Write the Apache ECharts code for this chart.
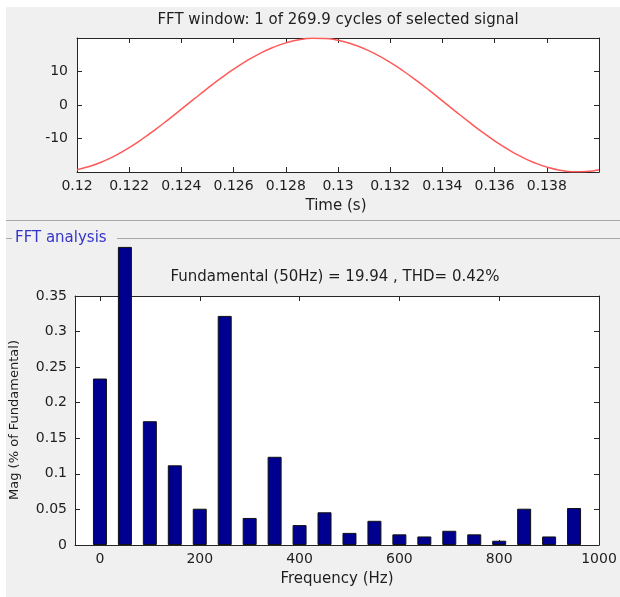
<!DOCTYPE html>
<html>
<head>
<meta charset="utf-8">
<script src="https://cdn.jsdelivr.net/npm/echarts@6/dist/echarts.min.js"></script>
<style>html,body{margin:0;padding:0;background:#fff;}#c{width:620px;height:597px;}</style>
</head>
<body>
<div id="c"></div>
<script>
// ---- Top panel: signal window (time in s, value) ----
var timeValues = [0.12,0.1205,0.121,0.1215,0.122,0.1225,0.123,0.1235,0.124,0.1245,0.125,0.1255,0.126,0.1265,0.127,0.1275,0.128,0.1285,0.129,0.1295,0.13,0.1305,0.131,0.1315,0.132,0.1325,0.133,0.1335,0.134,0.1345,0.135,0.1355,0.136,0.1365,0.137,0.1375,0.138,0.1385,0.139,0.1395,0.14];
var signalValues = [-19.31,-18.30,-16.84,-14.96,-12.71,-10.15,-7.34,-4.35,-1.25,1.88,4.96,7.92,10.68,13.19,15.36,17.16,18.54,19.46,19.90,19.85,19.31,18.30,16.84,14.96,12.71,10.15,7.34,4.35,1.25,-1.88,-4.96,-7.92,-10.68,-13.19,-15.36,-17.16,-18.54,-19.46,-19.90,-19.85,-19.31];
var timeTicks = [0.12,0.122,0.124,0.126,0.128,0.13,0.132,0.134,0.136,0.138];
var signalTicks = [-10,0,10];

// ---- Bottom panel: FFT harmonics ----
var freqValues = [0,50,100,150,200,250,300,350,400,450,500,550,600,650,700,750,800,850,900,950];
var magValues = [0.234,0.419,0.174,0.112,0.051,0.322,0.038,0.124,0.028,0.046,0.017,0.034,0.015,0.012,0.020,0.015,0.006,0.051,0.012,0.052];
var freqTicks = [0,200,400,600,800,1000];
var magTicks = [0,0.05,0.1,0.15,0.2,0.25,0.3,0.35];

var titleTop = 'FFT window: 1 of 269.9 cycles of selected signal';
var titleBottom = 'Fundamental (50Hz) = 19.94 , THD= 0.42%';

var FONT = '"DejaVu Sans", Verdana, sans-serif';
var TXT = '#1e1e1e';
var AX = '#262626';
var FS = 15;

function fmt(v){ return String(parseFloat(v.toFixed(4))); }

var lineData = timeValues.map(function(t,i){ return [t, signalValues[i]]; });
var barData = freqValues.map(function(f,i){ return [f, magValues[i]]; });

var chart = echarts.init(document.getElementById('c'), null, {renderer:'canvas'});

var lblStyle = {color: TXT, fontFamily: FONT, fontSize: 14};
function tick(vals){ return {show:true, inside:true, length:5, lineStyle:{color:AX}, customValues: vals}; }
var line = {show:true, onZero:false, lineStyle:{color:AX, width:1}};

chart.setOption({
  animation: false,
  backgroundColor: '#ffffff',
  graphic: [
    {type:'rect', z:-10, shape:{x:6,y:7,width:614,height:590}, style:{fill:'#f0f0f0'}},
    {type:'line', shape:{x1:6,y1:220.5,x2:620,y2:220.5}, style:{stroke:'#a8a8a8',lineWidth:1}},
    {type:'line', shape:{x1:6,y1:238.5,x2:12,y2:238.5}, style:{stroke:'#a8a8a8',lineWidth:1}},
    {type:'line', shape:{x1:117,y1:238.5,x2:620,y2:238.5}, style:{stroke:'#a8a8a8',lineWidth:1}},
    {type:'text', x:15, y:238, style:{text:'FFT analysis', fill:'#3535c8', font:FS+'px '+FONT, textVerticalAlign:'middle'}},
    {type:'text', x:338, y:20, style:{text:titleTop, fill:TXT, font:FS+'px '+FONT, textAlign:'center', textVerticalAlign:'middle'}},
    {type:'text', x:336, y:206, style:{text:'Time (s)', fill:TXT, font:FS+'px '+FONT, textAlign:'center', textVerticalAlign:'middle'}},
    {type:'text', x:335, y:277, style:{text:titleBottom, fill:TXT, font:FS+'px '+FONT, textAlign:'center', textVerticalAlign:'middle'}},
    {type:'text', x:337, y:579, style:{text:'Frequency (Hz)', fill:TXT, font:FS+'px '+FONT, textAlign:'center', textVerticalAlign:'middle'}},
    {type:'text', x:15, y:420, rotation:Math.PI/2, style:{text:'Mag (% of Fundamental)', fill:TXT, font:'13px '+FONT, textAlign:'center', textVerticalAlign:'middle'}}
  ],
  grid: [
    {left:77, top:38, width:522, height:134, show:true, backgroundColor:'#ffffff', borderWidth:0},
    {left:75, top:296, width:524, height:249, show:true, backgroundColor:'#ffffff', borderWidth:0}
  ],
  xAxis: [
    {gridIndex:0, type:'value', min:0.12, max:0.14, position:'bottom',
     axisLine:line, splitLine:{show:false}, axisTick:tick(timeTicks),
     axisLabel:Object.assign({margin:7, customValues: timeTicks, formatter:function(v){return fmt(v);}}, lblStyle)},
    {gridIndex:0, type:'value', min:0.12, max:0.14, position:'top',
     axisLine:line, splitLine:{show:false}, axisTick:tick(timeTicks), axisLabel:{show:false}},
    {gridIndex:1, type:'value', min:-50, max:1000, position:'bottom',
     axisLine:line, splitLine:{show:false}, axisTick:tick(freqTicks),
     axisLabel:Object.assign({margin:7, customValues: freqTicks, formatter:function(v){return String(v);}}, lblStyle)},
    {gridIndex:1, type:'value', min:-50, max:1000, position:'top',
     axisLine:line, splitLine:{show:false}, axisTick:tick(freqTicks), axisLabel:{show:false}}
  ],
  yAxis: [
    {gridIndex:0, type:'value', min:-20, max:20, position:'left',
     axisLine:line, splitLine:{show:false}, axisTick:tick(signalTicks),
     axisLabel:Object.assign({margin:9, customValues: signalTicks, formatter:function(v){return String(v);}}, lblStyle)},
    {gridIndex:0, type:'value', min:-20, max:20, position:'right',
     axisLine:line, splitLine:{show:false}, axisTick:tick(signalTicks), axisLabel:{show:false}},
    {gridIndex:1, type:'value', min:0, max:0.35, position:'left',
     axisLine:line, splitLine:{show:false}, axisTick:tick(magTicks),
     axisLabel:Object.assign({margin:8, customValues: magTicks, formatter:function(v){return fmt(v);}}, lblStyle)},
    {gridIndex:1, type:'value', min:0, max:0.35, position:'right',
     axisLine:line, splitLine:{show:false}, axisTick:tick(magTicks), axisLabel:{show:false}}
  ],
  series: [
    {type:'line', xAxisIndex:0, yAxisIndex:0, data:lineData, smooth:true, showSymbol:false,
     lineStyle:{color:'#ff5a5a', width:1.5}, clip:true, z:3},
    {type:'bar', xAxisIndex:2, yAxisIndex:2, data:barData, barWidth:14, clip:false,
     itemStyle:{color:'#000090', borderColor:'#111', borderWidth:1}, z:3}
  ]
});
</script>
</body>
</html>
